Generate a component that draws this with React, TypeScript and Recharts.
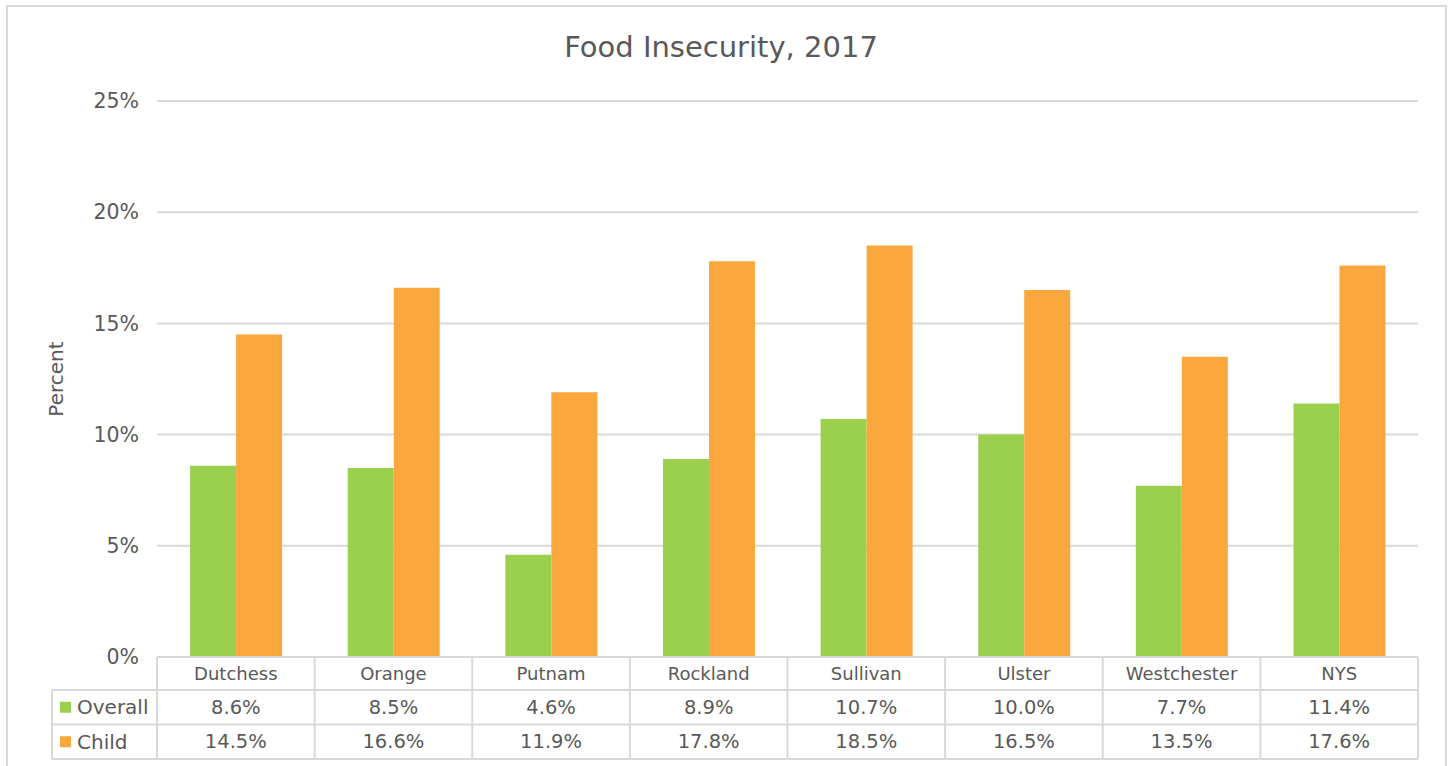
import { BarChart, Bar, XAxis, YAxis, CartesianGrid } from "recharts";

const counties = ["Dutchess", "Orange", "Putnam", "Rockland", "Sullivan", "Ulster", "Westchester", "NYS"];
const overall = [8.6, 8.5, 4.6, 8.9, 10.7, 10.0, 7.7, 11.4];
const child = [14.5, 16.6, 11.9, 17.8, 18.5, 16.5, 13.5, 17.6];
const yTicks = [0, 5, 10, 15, 20, 25];

const series = [
  { key: "overall", name: "Overall", color: "#9BCF4E", values: overall },
  { key: "child", name: "Child", color: "#FAA73E", values: child },
];

const data = counties.map((county, i) => ({ county, overall: overall[i], child: child[i] }));

const W = 1448;
const H = 766;
const PLOT_LEFT = 157;
const PLOT_RIGHT = 1418;
const PLOT_TOP = 101;
const PLOT_BOTTOM = 657;
const HEADER_H = 33;
const ROW_H = 34.5;
const LEGEND_LEFT = 52;
const FONT = "'DejaVu Sans', sans-serif";
const TEXT = "#595959";
const GRID = "#d9d9d9";

const fmt = (v: number) => `${v.toFixed(1)}%`;

// x-axis tick that draws one column of the data table
const TableTick = (props: any) => {
  const { x, index, payload } = props;
  const band = (PLOT_RIGHT - PLOT_LEFT) / counties.length;
  const left = x - band / 2;
  const right = x + band / 2;
  const y1 = PLOT_BOTTOM + HEADER_H;
  const y2 = y1 + ROW_H;
  const y3 = y2 + ROW_H;
  return (
    <g>
      <line x1={left} x2={right} y1={y1} y2={y1} stroke={GRID} strokeWidth={2} />
      <line x1={left} x2={right} y1={y2} y2={y2} stroke={GRID} strokeWidth={2} />
      <line x1={left} x2={right} y1={y3} y2={y3} stroke={GRID} strokeWidth={2} />
      {index === 0 && <line x1={left} x2={left} y1={PLOT_BOTTOM} y2={y3} stroke={GRID} strokeWidth={2} />}
      <line x1={right} x2={right} y1={PLOT_BOTTOM} y2={y3} stroke={GRID} strokeWidth={2} />
      <text x={x} y={PLOT_BOTTOM + HEADER_H / 2} textAnchor="middle" dominantBaseline="central" fill={TEXT} fontSize={18} fontFamily={FONT}>
        {payload.value}
      </text>
      {series.map((s, r) => (
        <text key={s.key} x={x} y={y1 + ROW_H * r + ROW_H / 2} textAnchor="middle" dominantBaseline="central" fill={TEXT} fontSize={19.5} fontFamily={FONT}>
          {fmt(s.values[index])}
        </text>
      ))}
    </g>
  );
};

export default function App() {
  const y1 = PLOT_BOTTOM + HEADER_H;
  return (
    <div style={{ position: "absolute", left: 0, top: 0, width: W, height: H, overflow: "hidden", background: "#fff" }}>
      <div style={{ position: "absolute", left: 6, top: 5, width: 1441, height: 800, border: `2px solid ${GRID}`, boxSizing: "border-box" }} />
      <div style={{ position: "absolute", left: 0, top: 0 }}>
        <BarChart
          width={W}
          height={H}
          data={data}
          margin={{ top: PLOT_TOP, right: W - PLOT_RIGHT, bottom: 0, left: 97 }}
          barCategoryGap="21%"
          barGap={0}
        >
          <CartesianGrid vertical={false} stroke={GRID} strokeWidth={2} />
          <XAxis
            dataKey="county"
            height={H - PLOT_BOTTOM}
            axisLine={{ stroke: GRID, strokeWidth: 2 }}
            tickLine={false}
            tick={<TableTick />}
            interval={0}
          />
          <YAxis
            width={PLOT_LEFT - 97}
            domain={[0, 25]}
            ticks={yTicks}
            tickFormatter={(v) => `${v}%`}
            axisLine={false}
            tickLine={false}
            tickMargin={12}
            tick={{ fill: TEXT, fontSize: 20.5, fontFamily: FONT }}
          />
          {series.map((s) => (
            <Bar key={s.key} dataKey={s.key} name={s.name} fill={s.color} isAnimationActive={false} />
          ))}
        </BarChart>
      </div>
      <svg width={W} height={H} style={{ position: "absolute", left: 0, top: 0, pointerEvents: "none" }}>
        <text x={721} y={47} textAnchor="middle" dominantBaseline="central" fill={TEXT} fontSize={29} fontFamily={FONT}>
          Food Insecurity, 2017
        </text>
        <text
          x={56}
          y={(PLOT_TOP + PLOT_BOTTOM) / 2}
          transform={`rotate(-90 56 ${(PLOT_TOP + PLOT_BOTTOM) / 2})`}
          textAnchor="middle"
          dominantBaseline="central"
          fill={TEXT}
          fontSize={20}
          fontFamily={FONT}
        >
          Percent
        </text>
        <line x1={LEGEND_LEFT} x2={PLOT_LEFT} y1={y1} y2={y1} stroke={GRID} strokeWidth={2} />
        <line x1={LEGEND_LEFT} x2={PLOT_LEFT} y1={y1 + ROW_H} y2={y1 + ROW_H} stroke={GRID} strokeWidth={2} />
        <line x1={LEGEND_LEFT} x2={PLOT_LEFT} y1={y1 + ROW_H * 2} y2={y1 + ROW_H * 2} stroke={GRID} strokeWidth={2} />
        <line x1={LEGEND_LEFT} x2={LEGEND_LEFT} y1={y1} y2={y1 + ROW_H * 2} stroke={GRID} strokeWidth={2} />
        {series.map((s, r) => (
          <g key={s.key}>
            <rect x={60} y={y1 + ROW_H * r + ROW_H / 2 - 5.5} width={11} height={11} fill={s.color} />
            <text x={77} y={y1 + ROW_H * r + ROW_H / 2} dominantBaseline="central" fill={TEXT} fontSize={20} fontFamily={FONT}>
              {s.name}
            </text>
          </g>
        ))}
      </svg>
    </div>
  );
}
